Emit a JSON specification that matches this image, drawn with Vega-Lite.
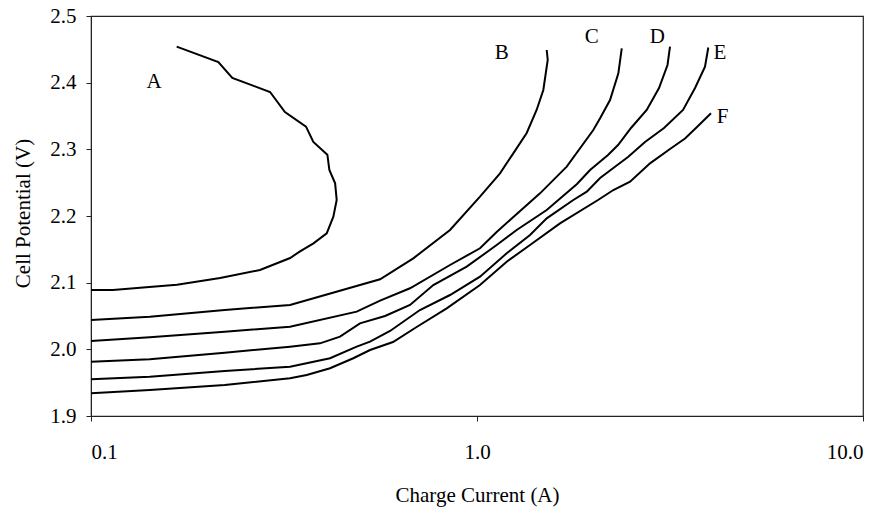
{
  "$schema": "https://vega.github.io/schema/vega-lite/v6.json",
  "width": 772,
  "height": 400,
  "autosize": {"type": "none"},
  "padding": {"left": 91, "top": 16, "right": 22, "bottom": 91},
  "background": "white",
  "config": {
    "view": {"stroke": "#222", "strokeWidth": 1.2},
    "font": "Liberation Serif",
    "axis": {
      "domainColor": "#222", "tickColor": "#222", "grid": false,
      "labelFont": "Liberation Serif", "titleFont": "Liberation Serif",
      "labelFontSize": 21, "titleFontSize": 21, "labelColor": "#000", "titleColor": "#000",
      "titleFontWeight": "normal", "tickSize": 5
    }
  },
  "datasets": {
    "curves": [
      {"s":"A","i":1,"x":0.100,"y":2.089},{"s":"A","i":2,"x":0.114,"y":2.089},{"s":"A","i":3,"x":0.139,"y":2.093},{"s":"A","i":4,"x":0.167,"y":2.097},{"s":"A","i":5,"x":0.216,"y":2.107},{"s":"A","i":6,"x":0.274,"y":2.119},{"s":"A","i":7,"x":0.328,"y":2.137},{"s":"A","i":8,"x":0.348,"y":2.147},{"s":"A","i":9,"x":0.377,"y":2.159},{"s":"A","i":10,"x":0.408,"y":2.174},{"s":"A","i":11,"x":0.4245,"y":2.199},{"s":"A","i":12,"x":0.433,"y":2.224},{"s":"A","i":13,"x":0.429,"y":2.249},{"s":"A","i":14,"x":0.4145,"y":2.269},{"s":"A","i":15,"x":0.4096,"y":2.292},{"s":"A","i":16,"x":0.3767,"y":2.311},{"s":"A","i":17,"x":0.3606,"y":2.334},{"s":"A","i":18,"x":0.318,"y":2.356},{"s":"A","i":19,"x":0.291,"y":2.386},{"s":"A","i":20,"x":0.2323,"y":2.407},{"s":"A","i":21,"x":0.2138,"y":2.431},{"s":"A","i":22,"x":0.1667,"y":2.454},
      {"s":"B","i":1,"x":0.1,"y":2.044},{"s":"B","i":2,"x":0.142,"y":2.049},{"s":"B","i":3,"x":0.222,"y":2.059},{"s":"B","i":4,"x":0.3278,"y":2.0665},{"s":"B","i":5,"x":0.5609,"y":2.105},{"s":"B","i":6,"x":0.6839,"y":2.1365},{"s":"B","i":7,"x":0.8514,"y":2.179},{"s":"B","i":8,"x":1.018,"y":2.229},{"s":"B","i":9,"x":1.1471,"y":2.264},{"s":"B","i":10,"x":1.2417,"y":2.294},{"s":"B","i":11,"x":1.3452,"y":2.3245},{"s":"B","i":12,"x":1.4271,"y":2.359},{"s":"B","i":13,"x":1.4853,"y":2.389},{"s":"B","i":14,"x":1.5248,"y":2.434},{"s":"B","i":15,"x":1.5157,"y":2.449},
      {"s":"C","i":1,"x":0.1,"y":2.0125},{"s":"C","i":2,"x":0.142,"y":2.018},{"s":"C","i":3,"x":0.222,"y":2.0265},{"s":"C","i":4,"x":0.3278,"y":2.034},{"s":"C","i":5,"x":0.4879,"y":2.0565},{"s":"C","i":6,"x":0.5609,"y":2.073},{"s":"C","i":7,"x":0.6706,"y":2.0916},{"s":"C","i":8,"x":0.8514,"y":2.1265},{"s":"C","i":9,"x":1.018,"y":2.1516},{"s":"C","i":10,"x":1.1246,"y":2.176},{"s":"C","i":11,"x":1.2178,"y":2.194},{"s":"C","i":12,"x":1.4562,"y":2.234},{"s":"C","i":13,"x":1.7078,"y":2.274},{"s":"C","i":14,"x":2.0012,"y":2.329},{"s":"C","i":15,"x":2.0839,"y":2.3466},{"s":"C","i":16,"x":2.2113,"y":2.374},{"s":"C","i":17,"x":2.3238,"y":2.414},{"s":"C","i":18,"x":2.3714,"y":2.4516},
      {"s":"D","i":1,"x":0.1,"y":1.9815},{"s":"D","i":2,"x":0.142,"y":1.985},{"s":"D","i":3,"x":0.222,"y":1.995},{"s":"D","i":4,"x":0.3278,"y":2.004},{"s":"D","i":5,"x":0.392,"y":2.009},{"s":"D","i":6,"x":0.4417,"y":2.019},{"s":"D","i":7,"x":0.4975,"y":2.039},{"s":"D","i":8,"x":0.5778,"y":2.05},{"s":"D","i":9,"x":0.6706,"y":2.0665},{"s":"D","i":10,"x":0.7706,"y":2.0965},{"s":"D","i":11,"x":0.9404,"y":2.124},{"s":"D","i":12,"x":1.1246,"y":2.1565},{"s":"D","i":13,"x":1.2671,"y":2.179},{"s":"D","i":14,"x":1.5157,"y":2.209},{"s":"D","i":15,"x":1.8159,"y":2.248},{"s":"D","i":16,"x":1.963,"y":2.269},{"s":"D","i":17,"x":2.1849,"y":2.2915},{"s":"D","i":18,"x":2.3195,"y":2.3065},{"s":"D","i":19,"x":2.5061,"y":2.332},{"s":"D","i":20,"x":2.752,"y":2.359},{"s":"D","i":21,"x":2.9618,"y":2.392},{"s":"D","i":22,"x":3.1155,"y":2.4265},{"s":"D","i":23,"x":3.1623,"y":2.454},
      {"s":"E","i":1,"x":0.1,"y":1.955},{"s":"E","i":2,"x":0.142,"y":1.959},{"s":"E","i":3,"x":0.222,"y":1.9675},{"s":"E","i":4,"x":0.3278,"y":1.974},{"s":"E","i":5,"x":0.4162,"y":1.9866},{"s":"E","i":6,"x":0.4879,"y":2.004},{"s":"E","i":7,"x":0.5283,"y":2.0115},{"s":"E","i":8,"x":0.5953,"y":2.0275},{"s":"E","i":9,"x":0.7115,"y":2.059},{"s":"E","i":10,"x":0.8514,"y":2.0815},{"s":"E","i":11,"x":1.018,"y":2.109},{"s":"E","i":12,"x":1.1938,"y":2.144},{"s":"E","i":13,"x":1.3721,"y":2.1715},{"s":"E","i":14,"x":1.5157,"y":2.1965},{"s":"E","i":15,"x":1.7764,"y":2.224},{"s":"E","i":16,"x":1.9249,"y":2.2365},{"s":"E","i":17,"x":2.0839,"y":2.257},{"s":"E","i":18,"x":2.2555,"y":2.272},{"s":"E","i":19,"x":2.4615,"y":2.2885},{"s":"E","i":20,"x":2.7242,"y":2.311},{"s":"E","i":21,"x":3.0513,"y":2.332},{"s":"E","i":22,"x":3.4178,"y":2.359},{"s":"E","i":23,"x":3.6717,"y":2.392},{"s":"E","i":24,"x":3.8967,"y":2.424},{"s":"E","i":25,"x":3.9738,"y":2.4528},
      {"s":"F","i":1,"x":0.1,"y":1.934},{"s":"F","i":2,"x":0.142,"y":1.939},{"s":"F","i":3,"x":0.222,"y":1.9465},{"s":"F","i":4,"x":0.3278,"y":1.9565},{"s":"F","i":5,"x":0.3621,"y":1.9615},{"s":"F","i":6,"x":0.4162,"y":1.9716},{"s":"F","i":7,"x":0.4781,"y":1.9866},{"s":"F","i":8,"x":0.5283,"y":1.999},{"s":"F","i":9,"x":0.6059,"y":2.011},{"s":"F","i":10,"x":0.6977,"y":2.0335},{"s":"F","i":11,"x":0.8347,"y":2.0615},{"s":"F","i":12,"x":1.018,"y":2.0965},{"s":"F","i":13,"x":1.1938,"y":2.1315},{"s":"F","i":14,"x":1.3721,"y":2.1565},{"s":"F","i":15,"x":1.6406,"y":2.189},{"s":"F","i":16,"x":2.0585,"y":2.224},{"s":"F","i":17,"x":2.2555,"y":2.239},{"s":"F","i":18,"x":2.492,"y":2.2515},{"s":"F","i":19,"x":2.807,"y":2.279},{"s":"F","i":20,"x":3.1623,"y":2.3005},{"s":"F","i":21,"x":3.4589,"y":2.3163},{"s":"F","i":22,"x":3.7375,"y":2.335},{"s":"F","i":23,"x":4.0384,"y":2.354}
    ],
    "labels": [
      {"t":"A","x":0.1456,"y":2.401},
      {"t":"B","x":1.159,"y":2.444},
      {"t":"C","x":1.982,"y":2.469},
      {"t":"D","x":2.932,"y":2.469},
      {"t":"E","x":4.261,"y":2.444},
      {"t":"F","x":4.33,"y":2.349}
    ]
  },
  "layer": [
    {
      "data": {"name": "curves"},
      "mark": {"type": "line", "color": "#000", "strokeWidth": 2, "clip": true},
      "encoding": {
        "x": {"field": "x", "type": "quantitative",
          "scale": {"type": "log", "domain": [0.1, 10], "nice": false},
          "axis": {"values": [0.1, 1, 10], "format": ".1f", "title": "Charge Current (A)",
            "labelPadding": 20, "titleY": 79, "titleBaseline": "middle"}},
        "y": {"field": "y", "type": "quantitative",
          "scale": {"domain": [1.9, 2.5], "nice": false, "zero": false},
          "axis": {"values": [1.9, 2.0, 2.1, 2.2, 2.3, 2.4, 2.5], "format": ".1f", "title": "Cell Potential (V)",
            "labelPadding": 10, "titleX": -68, "titleY": 197, "titleAngle": -90, "titleBaseline": "middle", "titleAlign": "center"}},
        "detail": {"field": "s"},
        "order": {"field": "i", "type": "quantitative"}
      }
    },
    {
      "data": {"name": "labels"},
      "mark": {"type": "text", "font": "Liberation Serif", "fontSize": 21, "color": "#000", "align": "center", "baseline": "middle"},
      "encoding": {
        "x": {"field": "x", "type": "quantitative"},
        "y": {"field": "y", "type": "quantitative"},
        "text": {"field": "t"}
      }
    }
  ]
}
